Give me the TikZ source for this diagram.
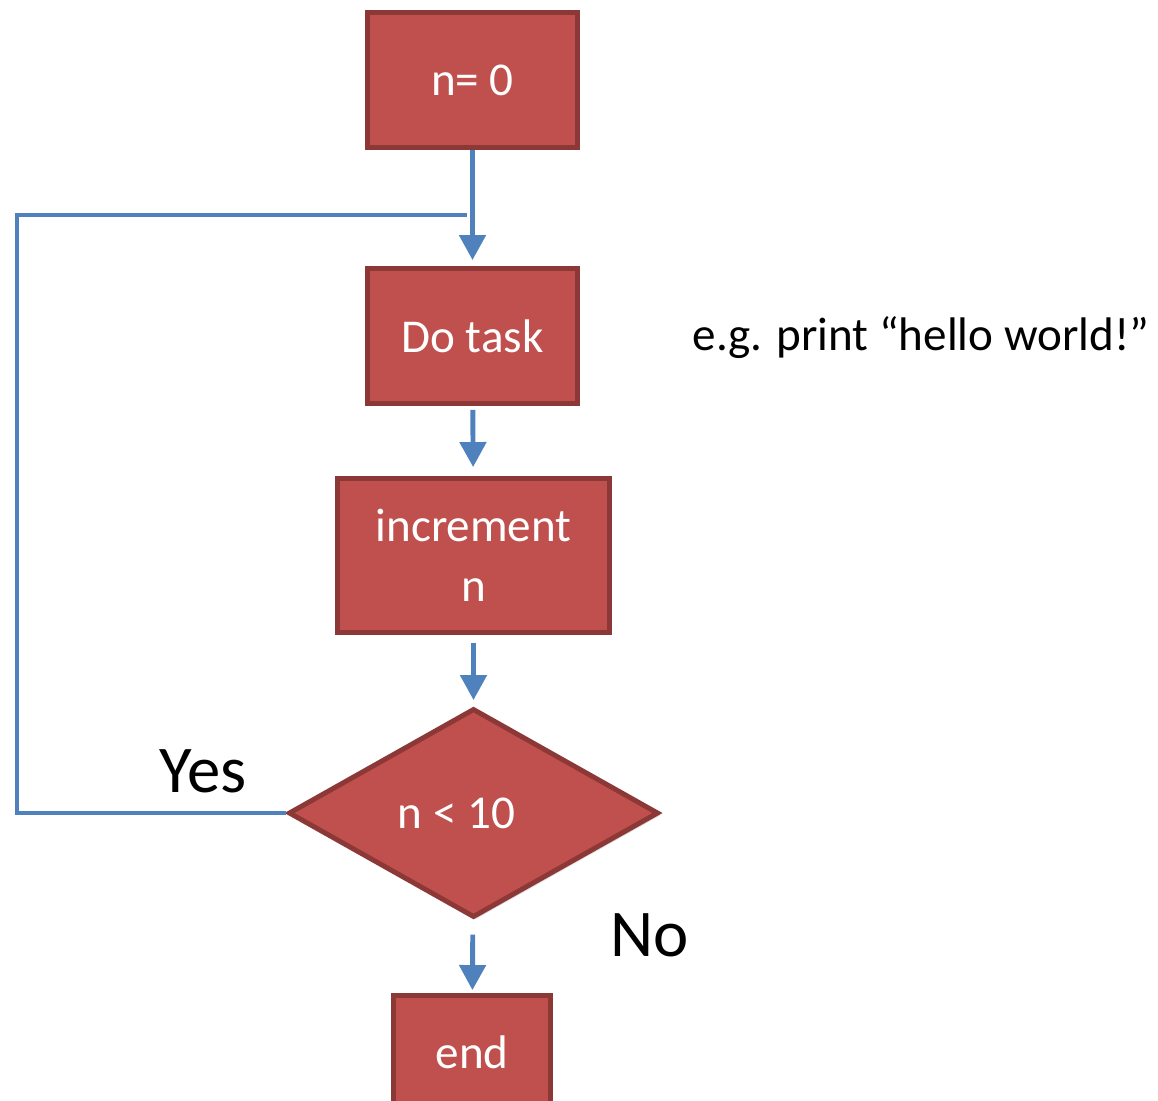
\documentclass[tikz,border=0pt]{standalone}
\usepackage{fontspec}
\setmainfont{Carlito}
\usetikzlibrary{arrows.meta,shapes.geometric,shadows}

\definecolor{boxred}{RGB}{192,80,77}
\definecolor{boxedge}{RGB}{140,56,54}
\definecolor{flowblue}{RGB}{79,129,189}

\begin{document}
\begin{tikzpicture}[x=1cm,y=1cm,line join=miter,
    stepbox/.style={draw=boxedge,fill=boxred,line width=2.8pt,
        text=white,font=\fontsize{26.8}{34}\selectfont,align=center,
        inner sep=0pt,minimum height=2.70cm,
        drop shadow={opacity=0.25,shadow xshift=0.05cm,shadow yshift=-0.05cm}},
    testbox/.style={stepbox,diamond,aspect=1.77,
        minimum width=7.40cm,minimum height=4.18cm},
    flow/.style={draw=flowblue,line width=2.8pt},
    flowarrow/.style={flow,-{Triangle[width=0.52cm,length=0.5cm]}},
    bigword/.style={font=\fontsize{38}{44}\selectfont}]
        \useasboundingbox (0,0) rectangle (23.16,-22);

        % Pasos del bucle
        \node[stepbox,minimum width=4.20cm] (start) at (9.45,-1.60) {n= 0};
        \node[stepbox,minimum width=4.20cm] (task) at (9.45,-6.72) {Do task};
        \node[stepbox,minimum width=5.44cm,minimum height=3.08cm]
            (incr) at (9.47,-11.11) {increment\\n};
        \node[testbox] (cond) at (9.47,-16.26) {n < 10\hspace*{0.68cm}};
        \node[stepbox,minimum width=3.14cm,minimum height=2.40cm]
            (stop) at (9.44,-21.11) {\raisebox{0.12cm}{end}};

        % Flechas entre los pasos
        \draw[flowarrow,shorten >=0.12cm] (start) -- (task);
        \draw[flowarrow,shorten <=0.08cm,shorten >=0.18cm] (task) -- (incr);
        \draw[flowarrow,shorten <=0.16cm,shorten >=0.12cm] (incr) -- (cond);
        \draw[flowarrow,shorten <=0.30cm,shorten >=0.06cm] (cond) -- (stop);

        % Retorno del bucle
        \coordinate (loopleft) at (0.34,-4.30);
        \coordinate (loopjoin) at (9.34,-4.30);
        \draw[flow] (cond.west) -| (loopleft) -- (loopjoin);

        % Rótulos
        \node[bigword] (yes) at (4.06,-15.42) {Yes};
        \node[bigword] (no) at (13.00,-18.70) {No};
        \node[font=\fontsize{26.8}{34}\selectfont] (note) at (18.42,-6.76)
            {e.g. print “hello world!”};
    \end{tikzpicture}
\end{document}
